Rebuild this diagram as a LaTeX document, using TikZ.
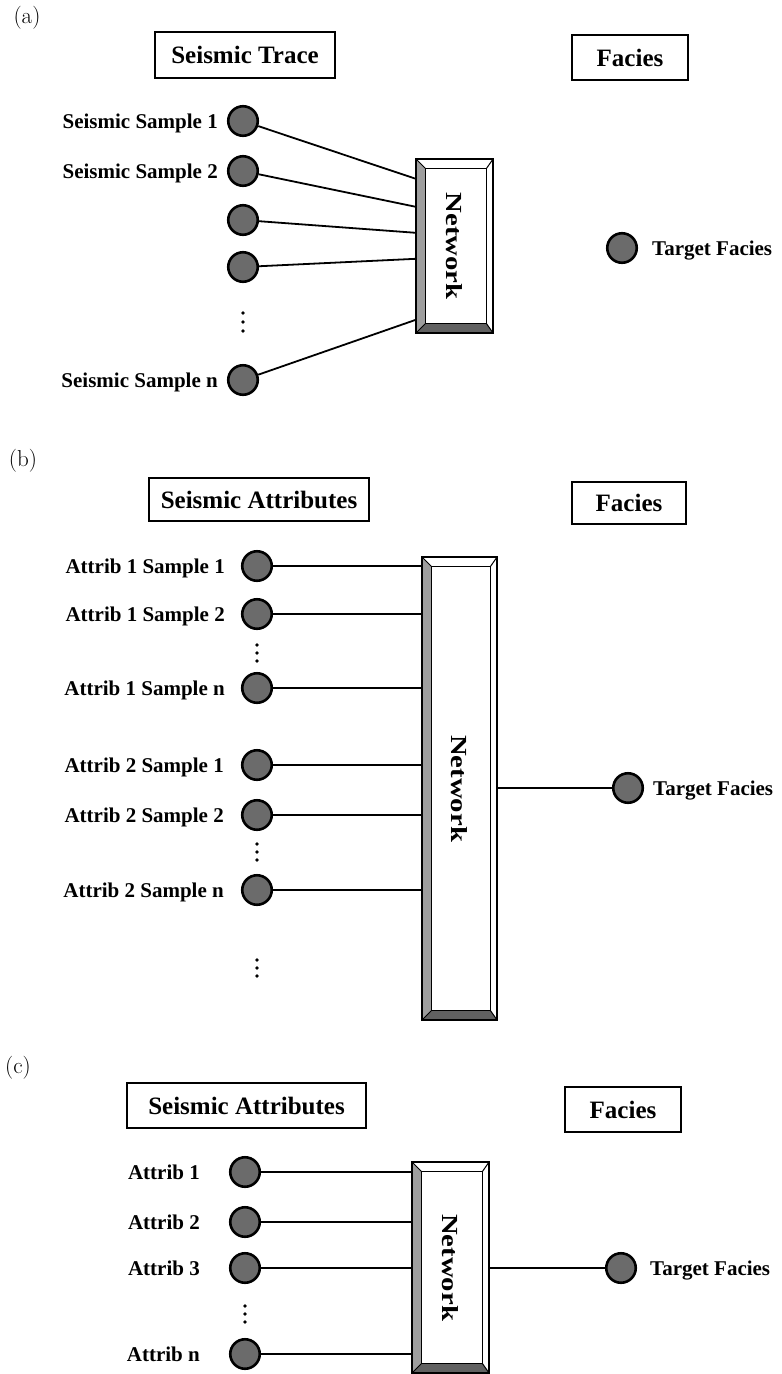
\documentclass[tikz,border=0pt]{standalone}
\usepackage{fontspec}
\usepackage{graphicx}
\newfontfamily\tnr{Liberation Serif}
\usetikzlibrary{calc}
\tikzset{
  hdr/.style={draw, line width=1.3pt, inner sep=0, font=\tnr\bfseries\fontsize{25}{30}\selectfont},
  lbl/.style={inner sep=0, text height=14pt, text depth=0pt, font=\tnr\bfseries\fontsize{21}{25}\selectfont},
  neuron/.style={circle, draw=black, line width=2.6pt, fill=black!58, minimum size=29.5pt, inner sep=0},
  conn/.style={line width=1.8pt},
  net/.style={inner sep=0, font=\tnr\bfseries\fontsize{23}{27}\selectfont},
  vdot/.style={fill=black},
  panel/.style={inner sep=0, font=\fontsize{23}{27}\selectfont},
  bevL/.style={fill=black!38},
  bevB/.style={fill=black!62},
  netline/.style={line width=1pt},
  netouter/.style={line width=1.8pt}
}
\newcommand\bevelbox[1]{%
  \fill[bevL] (#1.north west) -- (#1.south west) -- ([shift={(10,-10)}]#1.south west) -- ([shift={(10,10)}]#1.north west) -- cycle;
  \fill[bevB] (#1.south west) -- (#1.south east) -- ([shift={(-7,-10)}]#1.south east) -- ([shift={(10,-10)}]#1.south west) -- cycle;
  \draw[netline] ([shift={(10,10)}]#1.north west) rectangle ([shift={(-7,-10)}]#1.south east);
  \draw[netline] (#1.north west) -- ([shift={(10,10)}]#1.north west)
                 (#1.north east) -- ([shift={(-7,10)}]#1.north east)
                 (#1.south west) -- ([shift={(10,-10)}]#1.south west)
                 (#1.south east) -- ([shift={(-7,-10)}]#1.south east);
  \draw[netouter] (#1.north west) rectangle (#1.south east);
}
\newcommand\netlabel{\rotatebox{-90}{\scalebox{1.25}[1]{Network}}}
\begin{document}
\begin{tikzpicture}[x=1pt,y=-1pt]
\path[use as bounding box] (0,0) rectangle (782,1374);

% ---------------- panel (a)
\node[panel] (pa) at (27,18) {(a)};
\node[hdr, minimum width=180pt, minimum height=46pt] (hA) at (245,55) {Seismic Trace};
\node[hdr, minimum width=116pt, minimum height=45pt] (fA) at (630,57.5) {Facies};

\node[neuron] (sA1) at (243,121) {};
\node[neuron] (sA2) at (243,171) {};
\node[neuron] (sA3) at (243,220) {};
\node[neuron] (sA4) at (243,267) {};
\node[neuron] (sAn) at (243,380) {};
\foreach \yy in {313,322,331} \fill[vdot] (243,\yy) circle[radius=1.9pt];

\node[lbl, anchor=east] (lA1) at (218,121) {Seismic Sample 1};
\node[lbl, anchor=east] (lA2) at (218,171) {Seismic Sample 2};
\node[lbl, anchor=east] (lAn) at (218,380) {Seismic Sample n};

\node[net, minimum width=77pt, minimum height=174pt] (netA) at (454.5,246) {\netlabel};
\bevelbox{netA}

\draw[conn] (sA1) -- ([shift={(0,20)}]netA.north west);
\draw[conn] (sA2) -- ([shift={(0,48)}]netA.north west);
\draw[conn] (sA3) -- ([shift={(0,74)}]netA.north west);
\draw[conn] (sA4) -- ([shift={(0,100)}]netA.north west);
\draw[conn] (sAn) -- ([shift={(0,161)}]netA.north west);

\node[neuron] (tA) at (622,248) {};
\node[lbl, anchor=west] (tlA) at (652,248) {Target Facies};

% ---------------- panel (b)
\node[panel] (pb) at (23,461) {(b)};
\node[hdr, minimum width=220pt, minimum height=43pt] (hB) at (259,499.5) {Seismic Attributes};
\node[hdr, minimum width=114pt, minimum height=42pt] (fB) at (629,503) {Facies};

\node[neuron] (sB1) at (257,566) {};
\node[neuron] (sB2) at (257,614) {};
\node[neuron] (sB3) at (257,688) {};
\node[neuron] (sB4) at (257,765) {};
\node[neuron] (sB5) at (257,815) {};
\node[neuron] (sB6) at (257,890) {};
\foreach \yy in {645,653,661} \fill[vdot] (257,\yy) circle[radius=1.9pt];
\foreach \yy in {844,852,860} \fill[vdot] (257,\yy) circle[radius=1.9pt];
\foreach \yy in {960,968,976} \fill[vdot] (257,\yy) circle[radius=1.9pt];

\node[lbl, anchor=east] (lB1) at (225,566) {Attrib 1 Sample 1};
\node[lbl, anchor=east] (lB2) at (225,614) {Attrib 1 Sample 2};
\node[lbl, anchor=east] (lB3) at (225,688) {Attrib 1 Sample n};
\node[lbl, anchor=east] (lB4) at (224,765) {Attrib 2 Sample 1};
\node[lbl, anchor=east] (lB5) at (224,815) {Attrib 2 Sample 2};
\node[lbl, anchor=east] (lB6) at (224,890) {Attrib 2 Sample n};

\node[net, minimum width=75pt, minimum height=463pt] (netB) at (459.5,788.5) {\netlabel};
\bevelbox{netB}

\foreach \n in {sB1,sB2,sB3,sB4,sB5,sB6} \draw[conn] (\n) -- (\n -| netB.west);

\node[neuron] (tB) at (628,788) {};
\node[lbl, anchor=west] (tlB) at (653,788) {Target Facies};
\draw[conn] (netB.east |- tB) -- (tB);

% ---------------- panel (c)
\node[panel] (pc) at (18,1068) {(c)};
\node[hdr, minimum width=239pt, minimum height=45pt] (hC) at (246.5,1105.5) {Seismic Attributes};
\node[hdr, minimum width=116pt, minimum height=45pt] (fC) at (623,1109.5) {Facies};

\node[neuron] (sC1) at (245,1172) {};
\node[neuron] (sC2) at (245,1222) {};
\node[neuron] (sC3) at (245,1268) {};
\node[neuron] (sCn) at (245,1354) {};
\foreach \yy in {1306,1314,1322} \fill[vdot] (245,\yy) circle[radius=1.9pt];

\node[lbl, anchor=east] (lC1) at (200,1172) {Attrib 1};
\node[lbl, anchor=east] (lC2) at (200,1222) {Attrib 2};
\node[lbl, anchor=east] (lC3) at (200,1268) {Attrib 3};
\node[lbl, anchor=east] (lCn) at (200,1354) {Attrib n};

\node[net, minimum width=77pt, minimum height=211pt] (netC) at (450.5,1267.5) {\netlabel};
\bevelbox{netC}

\foreach \n in {sC1,sC2,sC3,sCn} \draw[conn] (\n) -- (\n -| netC.west);

\node[neuron] (tC) at (621,1268) {};
\node[lbl, anchor=west] (tlC) at (650,1268) {Target Facies};
\draw[conn] (netC.east |- tC) -- (tC);
\end{tikzpicture}
\end{document}
